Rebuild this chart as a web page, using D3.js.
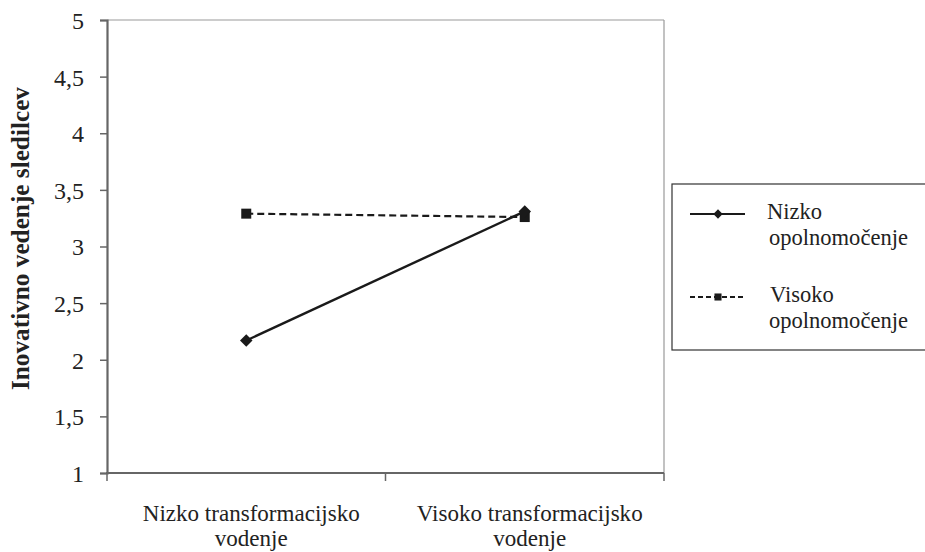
<!DOCTYPE html>
<html><head><meta charset="utf-8">
<script src="https://cdn.jsdelivr.net/npm/d3@7"></script>
<style>body{margin:0;background:#fff}svg{display:block}</style>
</head><body><svg id="c" width="925" height="552"></svg>
<script>
const categories = ["Nizko transformacijsko vodenje", "Visoko transformacijsko vodenje"];
const categoryLines = [["Nizko transformacijsko", "vodenje"], ["Visoko transformacijsko", "vodenje"]];
const seriesNames = ["Nizko opolnomočenje", "Visoko opolnomočenje"];
const seriesLegendLines = [["Nizko", "opolnomočenje"], ["Visoko", "opolnomočenje"]];
const nizkoValues = [2.17, 3.31];
const visokoValues = [3.29, 3.26];
const yTicks = [1, 1.5, 2, 2.5, 3, 3.5, 4, 4.5, 5];
const yTitle = "Inovativno vedenje sledilcev";

const FONT = "Liberation Serif";
const svg = d3.select("#c");
// measure helper: font size so that text reaches target width
function fitSize(str, target, weight) {
  const t = svg.append("text").attr("font-family", FONT).attr("font-size", 20)
    .attr("font-weight", weight || "normal").text(str);
  const w = t.node().getComputedTextLength();
  t.remove();
  return 20 * target / w;
}
const tickFs = fitSize("4,5", 30);
const catFs = fitSize("Nizko transformacijsko", 217);
const titleFs = fitSize(yTitle, 303, "bold");
const legFs = fitSize("opolnomočenje", 139);

const L = 107, R = 664, T = 20, B = 473;
const x = d3.scaleBand().domain(categories).range([L, R]);
const y = d3.scaleLinear().domain([1, 5]).range([B, T]);

svg.append("line").attr("x1", L).attr("x2", R).attr("y1", T).attr("y2", T).attr("stroke", "#999").attr("stroke-width", 1.2);
svg.append("line").attr("x1", R).attr("x2", R).attr("y1", T).attr("y2", B).attr("stroke", "#999").attr("stroke-width", 1.2);

const yAxis = d3.axisLeft(y).tickValues(yTicks).tickSize(7).tickPadding(16)
  .tickFormat(d => String(d).replace(".", ","));
const gy = svg.append("g").attr("transform", `translate(${L},0)`).call(yAxis)
  .attr("font-family", FONT).attr("font-size", tickFs);
gy.select(".domain").attr("stroke", "#666").attr("stroke-width", 2.2);
gy.selectAll(".tick line").attr("stroke", "#666").attr("stroke-width", 1.5);
gy.selectAll("text").attr("fill", "#222").attr("dy", "0.35em");

const gx = svg.append("g").attr("transform", `translate(0,${B})`);
gx.append("line").attr("x1", L - 1).attr("x2", R).attr("stroke", "#666").attr("stroke-width", 2.2);
const bounds = [L, ...categories.map(c => x(c) + x.bandwidth())];
gx.selectAll(".xt").data(bounds).join("line").attr("x1", d => d).attr("x2", d => d)
  .attr("y1", 0).attr("y2", 8).attr("stroke", "#666").attr("stroke-width", 1.5);
categories.forEach((c, i) => {
  const cxl = x(c) + x.bandwidth() / 2 + 5;
  const t = gx.append("text").attr("text-anchor", "middle").attr("font-family", FONT)
    .attr("font-size", catFs).attr("fill", "#222");
  categoryLines[i].forEach((ln, j) => t.append("tspan").attr("x", cxl).attr("y", 48 + j * 25).text(ln));
});

svg.append("text").attr("transform", `translate(29,238.5) rotate(-90)`)
  .attr("text-anchor", "middle").attr("font-family", FONT).attr("font-size", titleFs)
  .attr("font-weight", "bold").attr("fill", "#222").text(yTitle);

const cx = c => x(c) + x.bandwidth() / 2;
const line = d3.line().x((d, i) => cx(categories[i])).y(d => y(d));

svg.append("path").datum(visokoValues).attr("d", line).attr("fill", "none").attr("stroke", "#1a1a1a")
  .attr("stroke-width", 2.2).attr("stroke-dasharray", "7,4");
svg.append("path").datum(nizkoValues).attr("d", line).attr("fill", "none").attr("stroke", "#1a1a1a").attr("stroke-width", 2.4);

const diamond = d3.symbol().type(d3.symbolDiamond2).size(100);
const square = d3.symbol().type(d3.symbolSquare).size(100);
svg.selectAll(".sq").data(visokoValues).join("path").attr("d", square)
  .attr("transform", (d, i) => `translate(${cx(categories[i])},${y(d)})`).attr("fill", "#1a1a1a");
svg.selectAll(".dm").data(nizkoValues).join("path").attr("d", diamond)
  .attr("transform", (d, i) => `translate(${cx(categories[i])},${y(d)})`).attr("fill", "#1a1a1a");

const lg = svg.append("g");
lg.append("rect").attr("x", 672).attr("y", 184).attr("width", 270).attr("height", 166)
  .attr("fill", "#fff").attr("stroke", "#333").attr("stroke-width", 1.2);
const rows = [214, 297];
const textX = [767, 770];
const baselines = [[219, 245], [302, 328]];
rows.forEach((ry, i) => {
  lg.append("line").attr("x1", 690).attr("x2", 745).attr("y1", ry).attr("y2", ry)
    .attr("stroke", "#1a1a1a").attr("stroke-width", 2).attr("stroke-dasharray", i ? "5,3" : null);
  lg.append("path").attr("d", i ? d3.symbol().type(d3.symbolSquare).size(50)() : d3.symbol().type(d3.symbolDiamond2).size(55)())
    .attr("transform", `translate(718,${ry})`).attr("fill", "#1a1a1a");
  const t = lg.append("text").attr("font-family", FONT).attr("font-size", legFs).attr("fill", "#222");
  seriesLegendLines[i].forEach((ln, j) => t.append("tspan").attr("x", j ? 769 : textX[i]).attr("y", baselines[i][j]).text(ln));
});
</script></body></html>
